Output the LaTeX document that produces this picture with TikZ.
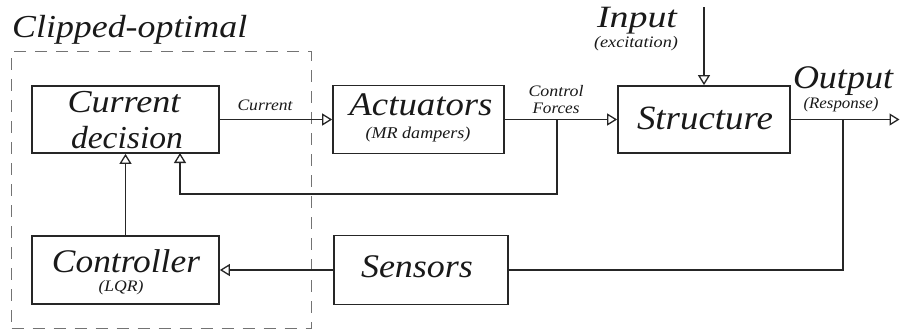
\documentclass[tikz,border=0pt]{standalone}
\usepackage{fontspec}
\usepackage{graphicx}
\setmainfont{Liberation Serif}
\usetikzlibrary{arrows.meta}
% width, font size, text
\newcommand\fitw[3]{\resizebox{#1}{\height}{\fontsize{#2}{#2}\selectfont\itshape #3}}
\begin{document}
\begin{tikzpicture}[x=1pt,y=-1pt,
  box/.style={draw=black!85, line width=1.7pt, rectangle, inner sep=0pt},
  grp/.style={draw=black!55, line width=0.9pt, dash pattern=on 12pt off 9pt, rectangle, inner sep=0pt},
  txt/.style={inner sep=0pt, anchor=base, text=black!90},
  wire/.style={draw=black!85, line width=1.7pt},
  arr/.style={wire, -{Triangle[open, length=10pt, width=12pt, line width=1.3pt]}}]
\useasboundingbox (0,0) rectangle (900,333);
% group
\node[grp, minimum width=299.5pt, minimum height=276.5pt] (clip) at (161.25,189.75) {};
\node[txt, anchor=base west] (cliplbl) at (12,37) {\fitw{235pt}{32}{Clipped-optimal}};
% boxes
\node[box, minimum width=187pt, minimum height=67pt] (cd) at (125.5,119.5) {};
\node[box, minimum width=171pt, minimum height=68pt] (act) at (418.5,119.5) {};
\node[box, minimum width=172pt, minimum height=67pt] (str) at (704,119.5) {};
\node[box, minimum width=187pt, minimum height=68pt] (ctl) at (125.5,270) {};
\node[box, minimum width=174pt, minimum height=69pt] (sen) at (421,270) {};
% texts
\node[txt] (t1) at (124,112) {\fitw{113pt}{32}{Current}};
\node[txt] (t2) at (127,148) {\fitw{112pt}{32}{decision}};
\node[txt] (t3) at (265,110) {\fitw{55pt}{16}{Current}};
\node[txt] (t4) at (421,115) {\fitw{143pt}{33}{Actuators}};
\node[txt] (t5) at (418,138) {\fitw{105pt}{16.5}{(MR dampers)}};
\node[txt] (t6) at (556,96) {\fitw{55pt}{16}{Control}};
\node[txt] (t7) at (556,113) {\fitw{47pt}{16}{Forces}};
\node[txt] (t8) at (705,129) {\fitw{136pt}{34}{Structure}};
\node[txt] (t9) at (637,27) {\fitw{80pt}{31}{Input}};
\node[txt] (t10) at (636,47) {\fitw{84pt}{16}{(excitation)}};
\node[txt] (t11) at (843,88) {\fitw{100pt}{33}{Output}};
\node[txt] (t12) at (841,108) {\fitw{75pt}{16}{(Response)}};
\node[txt] (t13) at (126,272) {\fitw{148pt}{33}{Controller}};
\node[txt] (t14) at (121,291) {\fitw{45pt}{16}{(LQR)}};
\node[txt] (t15) at (417,277) {\fitw{112pt}{33}{Sensors}};
% helper coordinates
\coordinate (b1) at (557,119.5);
\coordinate (fbk) at (557,194);
\coordinate (cdin) at (180,153);
\coordinate (inp) at (704,7);
\coordinate (outp) at (899.5,119.5);
\coordinate (b2) at (843,119.5);
% connectors
\draw[arr] (cd) -- (act);
\draw[arr] (act) -- (str);
\draw[arr] (b1) -- (fbk) -| (cdin);
\draw[arr] (inp) -- (str);
\draw[arr] (str) -- (outp);
\draw[wire] (b2) |- (sen);
\draw[arr] (sen) -- (ctl);
\draw[arr] (ctl) -- (cd);
\end{tikzpicture}
\end{document}
